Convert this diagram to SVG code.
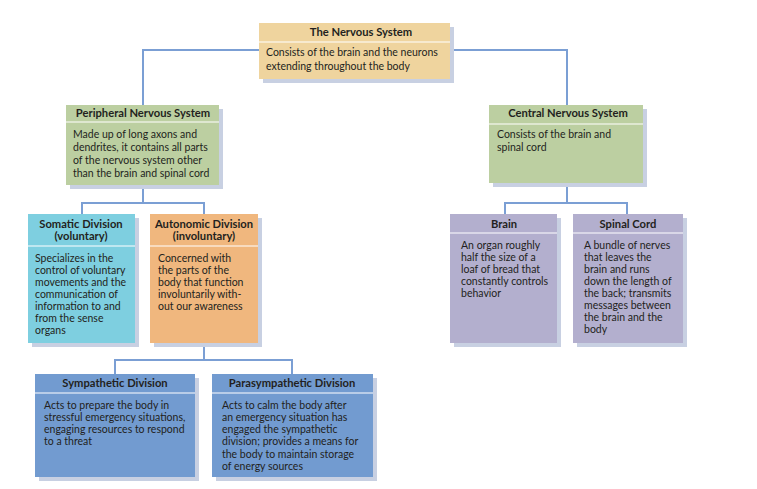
<svg xmlns="http://www.w3.org/2000/svg" width="757" height="489" viewBox="0 0 757 489">
<style>
text{font-family:Lato,"Open Sans","Liberation Sans",sans-serif;font-size:10.5px;fill:#231f20}
.h{font-weight:bold;text-anchor:middle;font-size:11.2px}
.sh{fill:#c8d0e2}
.div{stroke:#ffffff;stroke-width:1.2}
.c{fill:none;stroke:#7b9fd4;stroke-width:2}
.tan{fill:#efd49e}.grn{fill:#bccfa1}.cyn{fill:#7ecfe0}.org{fill:#f0b77e}.lav{fill:#b3afce}.blu{fill:#729bd0}
</style>
<rect width="757" height="489" fill="#ffffff"/>
<g id="connectors">
<path class="c" d="M143 105 V50 H260"/>
<path class="c" d="M450 50 H567 V105"/>
<path class="c" d="M143 185 V203 M82 214 V203 H204 V214"/>
<path class="c" d="M567 183 V203 M505 214 V203 H627 V214"/>
<path class="c" d="M204 343 V360 M115 374 V360 H292 V374"/>
</g>
<g id="nervous-system">
<rect class="sh" x="263" y="27" width="191" height="56"/>
<rect class="tan" x="259" y="23" width="191" height="56"/>
<line class="div" x1="259" y1="42" x2="450" y2="42"/>
<text class="h" x="361" y="36">The Nervous System</text>
<text x="266" y="56">Consists of the brain and the neurons</text>
<text x="266" y="70">extending throughout the body</text>
</g>
<g id="peripheral">
<rect class="sh" x="70" y="109" width="153" height="80"/>
<rect class="grn" x="66" y="105" width="153" height="80"/>
<line class="div" x1="66" y1="122" x2="219" y2="122"/>
<text class="h" x="143" y="117">Peripheral Nervous System</text>
<text x="73" y="138">Made up of long axons and</text>
<text x="73" y="151">dendrites, it contains all parts</text>
<text x="73" y="164">of the nervous system other</text>
<text x="73" y="177">than the brain and spinal cord</text>
</g>
<g id="central">
<rect class="sh" x="493" y="109" width="154" height="78"/>
<rect class="grn" x="489" y="105" width="154" height="78"/>
<line class="div" x1="489" y1="124" x2="643" y2="124"/>
<text class="h" x="568" y="117">Central Nervous System</text>
<text x="497" y="138">Consists of the brain and</text>
<text x="497" y="151">spinal cord</text>
</g>
<g id="somatic">
<rect class="sh" x="32" y="218" width="107" height="129"/>
<rect class="cyn" x="28" y="214" width="107" height="129"/>
<line class="div" x1="28" y1="246" x2="135" y2="246"/>
<text class="h" x="81" y="228">Somatic Division</text>
<text class="h" x="81" y="240">(voluntary)</text>
<text x="35" y="262">Specializes in the</text>
<text x="35" y="274">control of voluntary</text>
<text x="35" y="286">movements and the</text>
<text x="35" y="298">communication of</text>
<text x="35" y="310">information to and</text>
<text x="35" y="322">from the sense</text>
<text x="35" y="334">organs</text>
</g>
<g id="autonomic">
<rect class="sh" x="154" y="218" width="108" height="129"/>
<rect class="org" x="150" y="214" width="108" height="129"/>
<line class="div" x1="150" y1="246" x2="258" y2="246"/>
<text class="h" x="204" y="228">Autonomic Division</text>
<text class="h" x="204" y="240">(involuntary)</text>
<text x="158" y="262">Concerned with</text>
<text x="158" y="274">the parts of the</text>
<text x="158" y="286">body that function</text>
<text x="158" y="298">involuntarily with-</text>
<text x="158" y="310">out our awareness</text>
</g>
<g id="brain">
<rect class="sh" x="454" y="218" width="107" height="129"/>
<rect class="lav" x="450" y="214" width="107" height="129"/>
<line class="div" x1="450" y1="233" x2="557" y2="233"/>
<text class="h" x="504" y="228">Brain</text>
<text x="461" y="249">An organ roughly</text>
<text x="461" y="261">half the size of a</text>
<text x="461" y="273">loaf of bread that</text>
<text x="461" y="285">constantly controls</text>
<text x="461" y="297">behavior</text>
</g>
<g id="spinal-cord">
<rect class="sh" x="577" y="218" width="110" height="129"/>
<rect class="lav" x="573" y="214" width="110" height="129"/>
<line class="div" x1="573" y1="233" x2="683" y2="233"/>
<text class="h" x="628" y="228">Spinal Cord</text>
<text x="584" y="249">A bundle of nerves</text>
<text x="584" y="261">that leaves the</text>
<text x="584" y="273">brain and runs</text>
<text x="584" y="285">down the length of</text>
<text x="584" y="297">the back; transmits</text>
<text x="584" y="309">messages between</text>
<text x="584" y="321">the brain and the</text>
<text x="584" y="333">body</text>
</g>
<g id="sympathetic">
<rect class="sh" x="39" y="378" width="160" height="103"/>
<rect class="blu" x="35" y="374" width="160" height="103"/>
<line class="div" x1="35" y1="393" x2="195" y2="393"/>
<text class="h" x="115" y="387">Sympathetic Division</text>
<text x="44" y="409">Acts to prepare the body in</text>
<text x="44" y="421">stressful emergency situations,</text>
<text x="44" y="433">engaging resources to respond</text>
<text x="44" y="445">to a threat</text>
</g>
<g id="parasympathetic">
<rect class="sh" x="216" y="378" width="161" height="103"/>
<rect class="blu" x="212" y="374" width="161" height="103"/>
<line class="div" x1="212" y1="393" x2="373" y2="393"/>
<text class="h" x="292" y="387">Parasympathetic Division</text>
<text x="222" y="409">Acts to calm the body after</text>
<text x="222" y="421">an emergency situation has</text>
<text x="222" y="433">engaged the sympathetic</text>
<text x="222" y="445">division; provides a means for</text>
<text x="222" y="458">the body to maintain storage</text>
<text x="222" y="470">of energy sources</text>
</g>
</svg>
